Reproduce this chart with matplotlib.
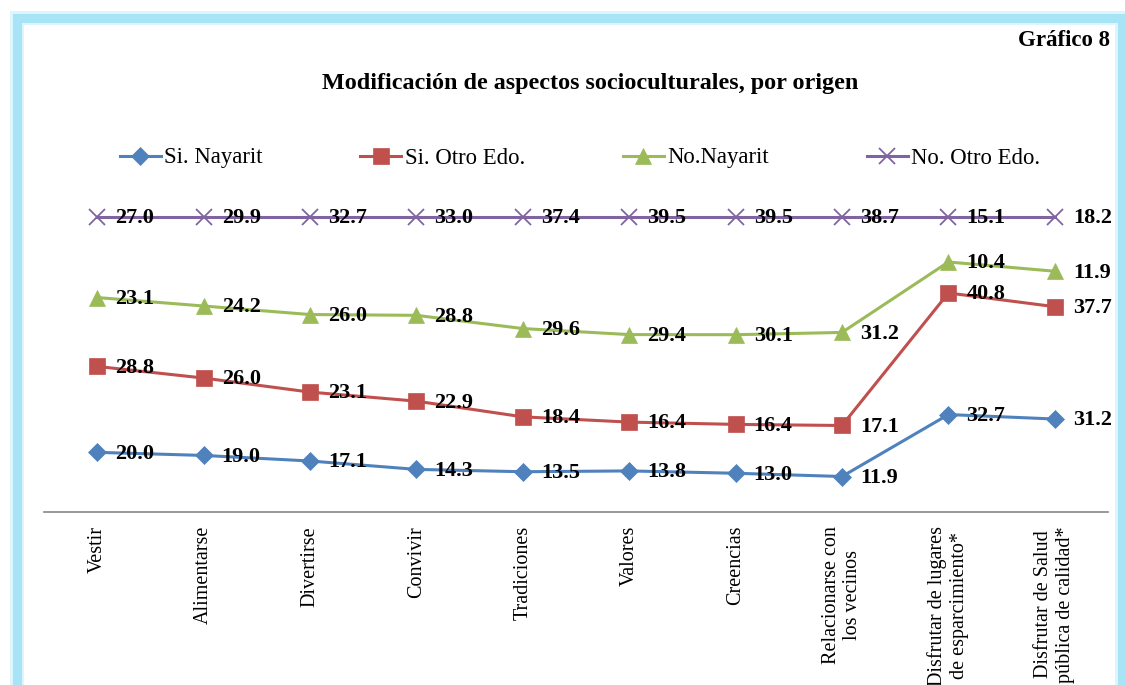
import numpy as np
import matplotlib.pyplot as plt
from matplotlib.patches import Rectangle

# Data (percent by category, 100% stacked)
categories = ['Vestir', 'Alimentarse', 'Divertirse', 'Convivir', 'Tradiciones',
              'Valores', 'Creencias', 'Relacionarse con\nlos vecinos',
              'Disfrutar de lugares\nde esparcimiento*',
              'Disfrutar de Salud\npública de calidad*']
si_nayarit = [20.0, 19.0, 17.1, 14.3, 13.5, 13.8, 13.0, 11.9, 32.7, 31.2]
si_otro = [28.8, 26.0, 23.1, 22.9, 18.4, 16.4, 16.4, 17.1, 40.8, 37.7]
no_nayarit = [23.1, 24.2, 26.0, 28.8, 29.6, 29.4, 30.1, 31.2, 10.4, 11.9]
no_otro = [27.0, 29.9, 32.7, 33.0, 37.4, 39.5, 39.5, 38.7, 15.1, 18.2]
series_names = ['Si. Nayarit', 'Si. Otro Edo.', 'No.Nayarit', 'No. Otro Edo.']

colors = ['#4F81BD', '#C0504D', '#9BBB59', '#8064A2']
markers = ['D', 's', '^', 'x']
msizes = [9, 12, 11, 11]

plt.rcParams['font.family'] = ['Liberation Serif', 'DejaVu Serif']

fig = plt.figure(figsize=[11.25, 6.85], dpi=100)
ax = fig.add_axes([44 / 1125, 1 - 512 / 685, (1108 - 44) / 1125, (512 - 217) / 685])

# 100% stacked
vals = np.array([si_nayarit, si_otro, no_nayarit, no_otro])
stack = np.cumsum(vals, axis=0) / vals.sum(axis=0) * 100
x = np.arange(len(categories))

for i in range(4):
    ax.plot(x, stack[i], color=colors[i], lw=2.2, marker=markers[i],
            markersize=msizes[i], markeredgewidth=1.3 if markers[i] == 'x' else 0.5,
            markeredgecolor=colors[i], label=series_names[i], clip_on=False, zorder=3)
    for xi, yi, v in zip(x, stack[i], vals[i]):
        ax.annotate(f"{v:.1f}", (xi, yi), xytext=(13, -1), textcoords='offset points',
                    ha='left', va='center', fontsize=16, fontweight='bold', zorder=4)

ax.set_xlim(-0.5, len(categories) - 0.5)
ax.set_ylim(0, 100)
ax.set_yticks([])
ax.set_xticks(x)
ax.set_xticklabels(categories, rotation=90, fontsize=14.5, va='top', ha='center',
                   multialignment='center', linespacing=1.2)
ax.tick_params(axis='x', length=0, pad=10)

# Clean Graph
for s in ['top', 'left', 'right']:
    ax.spines[s].set_visible(False)
ax.spines['bottom'].set_color('#868686')
ax.spines['bottom'].set_linewidth(1.2)

fig.text(1110 / 1125, 1 - 40 / 685, 'Gráfico 8', ha='right', va='center',
         fontsize=16.5, fontweight='bold')
fig.text(590 / 1125, 1 - 83 / 685, 'Modificación de aspectos socioculturales, por origen',
         ha='center', va='center', fontsize=17.4, fontweight='bold')

fig.legend(loc='center', bbox_to_anchor=(580 / 1125, 1 - 158 / 685), ncol=4,
           frameon=False, fontsize=16.4, columnspacing=4.3, handlelength=1.8,
           handletextpad=0.15)

# light blue frame
frame = dict(transform=fig.transFigure, fill=False, zorder=0)
fig.patches.append(Rectangle((17 / 1125, -0.02), (1122 - 17) / 1125, 1.02 - 18 / 685,
                             edgecolor='#DDF5FC', lw=10, **frame))
fig.patches.append(Rectangle((17 / 1125, -0.02), (1122 - 17) / 1125, 1.02 - 18 / 685,
                             edgecolor='#A6E4F6', lw=6.5, **frame))

plt.savefig('out.png', dpi=100)
